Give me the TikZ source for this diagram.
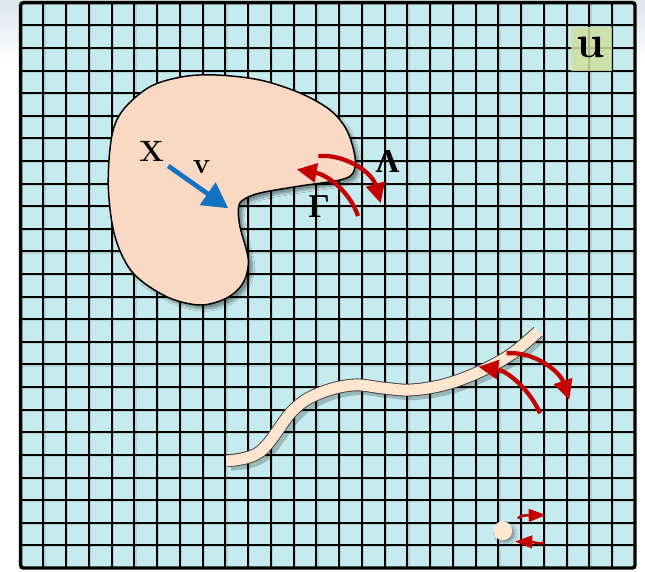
\documentclass[tikz,border=0pt]{standalone}
\usepackage{fontspec}
\newfontfamily\grkfont{Liberation Serif}
\usetikzlibrary{arrows.meta,shadows.blur}
\definecolor{gridbg}{RGB}{198,235,239}
\definecolor{peach}{RGB}{250,217,196}
\definecolor{fil}{RGB}{253,229,208}
\definecolor{redarr}{RGB}{196,0,0}
\definecolor{bluearr}{RGB}{18,114,196}
\definecolor{ubox}{RGB}{206,224,160}
\definecolor{edgegray}{RGB}{222,228,236}
\begin{document}
\begin{tikzpicture}[x=0.75pt,y=-0.75pt,
  gridline/.style={line width=1.5pt,black},
  gridshadow/.style={line width=1.2pt,black,opacity=0.1},
  redarrow/.style={draw=redarr,line width=3.2pt,-{Triangle[length=15pt,width=14pt]}},
  smallarrow/.style={draw=redarr,line width=1.9pt,-{Triangle[length=13pt,width=9.5pt]}},
  bluearrow/.style={draw=bluearr,line width=3.5pt,-{Triangle[length=19pt,width=20pt]}},
  lbl/.style={font=\fontsize{22}{26}\selectfont\bfseries,inner sep=0pt},
  glbl/.style={font=\grkfont\fontsize{25}{30}\selectfont\bfseries,inner sep=0pt}]
\useasboundingbox (0,0) rectangle (645,571);
% screenshot edge tint
\shade[top color=edgegray,bottom color=white] (0,0) rectangle (645,60);
% grid background
\fill[gridbg] (20.7,2.7) rectangle (635,568);
% grid shadows
\foreach \i in {1,...,26} \draw[gridshadow] ({22+\i*22.75},4) -- ({22+\i*22.75},568);
\foreach \j in {1,...,24} \draw[gridshadow] (22,{4+\j*22.61}) -- (635,{4+\j*22.61});
% grid lines
\foreach \i in {1,...,26} \draw[gridline] ({20.7+\i*22.75},2.7) -- ({20.7+\i*22.75},568);
\foreach \j in {1,...,24} \draw[gridline] (20.7,{2.7+\j*22.61}) -- (635,{2.7+\j*22.61});
\draw[line width=2.6pt,black,rounded corners=2pt] (20.7,2.7) rectangle (635,568);
% u label box
\fill[ubox,opacity=0.85] (570.7,27.3) rectangle (612.3,70.7);
\node[font=\fontsize{34}{40}\selectfont\bfseries,inner sep=0pt] (ulbl) at (591,47) {u};
% filament
\begin{scope}[shift={(4,4)}]
\draw[line width=9pt,black,opacity=0.22,line cap=butt] plot[smooth,tension=0.6] coordinates
 {(226.7,460.7) (260,451.7) (293.3,410) (320,393) (353,385) (383,388) (410,390) (443,385) (476.7,373) (510,355) (538,331.7)};
\end{scope}
\draw[line width=9.6pt,black!75,line cap=butt] plot[smooth,tension=0.6] coordinates
 {(226.7,460.7) (260,451.7) (293.3,410) (320,393) (353,385) (383,388) (410,390) (443,385) (476.7,373) (510,355) (538,331.7)};
\draw[line width=8.2pt,fil,line cap=butt] plot[smooth,tension=0.6] coordinates
 {(226.2,460.9) (260,451.7) (293.3,410) (320,393) (353,385) (383,388) (410,390) (443,385) (476.7,373) (510,355) (538.4,331.4)};
% blob
\draw[fill=peach,line width=1.1pt,blur shadow={shadow xshift=3pt,shadow yshift=-3pt,shadow blur steps=8,shadow opacity=40}]
 plot[smooth cycle,tension=0.55] coordinates {
 (216.7,75) (260,80) (300,93) (330,110) (346.7,130) (355,156.7) (353,173) (340,180)
 (300,186) (260,193) (243,200) (238.5,208) (240,226.7) (248.3,260) (243,283) (226.7,298)
 (200,305) (166.7,296.7) (133,273) (115,236.7) (108.3,186.7) (111.7,136.7) (123,110)
 (150,86.7) (183,76.7)};
% particle
\node[circle,fill=fil,minimum size=14.2pt,inner sep=0pt,
  blur shadow={shadow xshift=2pt,shadow yshift=-2pt,shadow blur steps=6,shadow opacity=35}] (part) at (502.7,530.7) {};
% coordinates for arrows
\coordinate (vs) at (168.3,166);
\coordinate (ve) at (228.3,208.3);
\coordinate (gs) at (358,216);
\coordinate (ge) at (296.7,169.3);
\coordinate (ls) at (318.3,156);
\coordinate (le) at (380.7,203.3);
\coordinate (fas) at (540,413.3);
\coordinate (fae) at (478.3,366.7);
\coordinate (fbs) at (506.7,353.3);
\coordinate (fbe) at (569.3,400);
\coordinate (pas) at (518,518.5);
\coordinate (pae) at (546,515);
\coordinate (pbs) at (544,542.5);
\coordinate (pbe) at (515,541.5);
% arrows
\draw[bluearrow] (vs) -- (ve);
\draw[redarrow] (gs) .. controls (350,192) and (328,175) .. (ge);
\draw[redarrow] (ls) .. controls (345,154) and (372,172) .. (le);
\draw[redarrow] (fas) .. controls (530,390) and (508,371) .. (fae);
\draw[redarrow] (fbs) .. controls (535,351) and (560,372) .. (fbe);
\draw[smallarrow] (pas) .. controls (521,515) and (524,515.5) .. (pae);
\draw[smallarrow] (pbs) .. controls (540,545) and (535,542) .. (pbe);
% labels
\node[lbl] (xlbl) at (151.7,151) {X};
\node[lbl] (vlbl) at (201.7,167.5) {v};
\node[glbl] (lamlbl) at (387.5,161) {Λ};
\node[glbl] (gamlbl) at (319.2,206.7) {Γ};
\end{tikzpicture}
\end{document}
